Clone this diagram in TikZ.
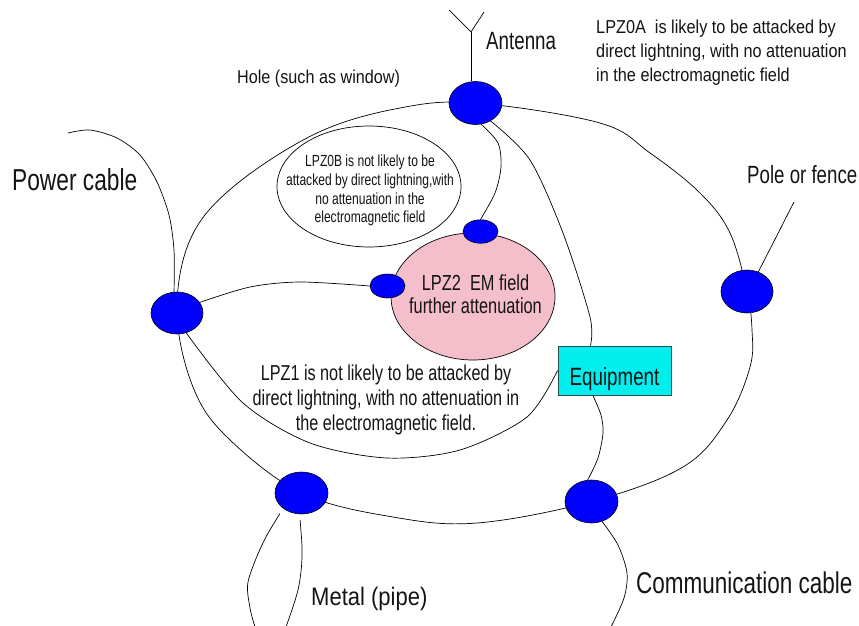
\documentclass[tikz,border=0pt]{standalone}
\usepackage{fontspec}
\setmainfont{Liberation Sans}[FakeStretch=0.75]
\newfontfamily\widefont{Liberation Sans}[FakeStretch=0.87]
\usetikzlibrary{shapes.geometric}
\definecolor{bondblue}{RGB}{0,0,255}
\definecolor{equipcyan}{RGB}{0,238,238}
\definecolor{equipedge}{RGB}{40,80,80}
\definecolor{zonepink}{RGB}{244,190,203}
\definecolor{ink}{RGB}{20,20,20}
\newcommand{\fsz}[2]{\fontsize{#1}{#2}\selectfont}
\pgfdeclarelayer{wires}
\pgfsetlayers{wires,main}

\begin{document}
\begin{tikzpicture}[x=1pt,y=-1pt,
  bond/.style={ellipse, draw=black, fill=bondblue, line width=0.6pt, inner sep=0pt},
  bigbond/.style={bond, minimum width=53pt, minimum height=43pt},
  smallbond/.style={bond, minimum width=35pt, minimum height=23.5pt},
  zone/.style={ellipse, draw=black, line width=0.7pt, inner sep=0pt},
  wire/.style={draw=black, line width=0.7pt},
  txt/.style={inner sep=0pt, text=ink},
]
\useasboundingbox (0,0) rectangle (859,626);

% protection zones
\node[zone, fill=white, minimum width=184pt, minimum height=121pt] (zoneB) at (369,186.5) {};
\node[zone, fill=zonepink, minimum width=164pt, minimum height=127pt] (zone2) at (473,296.5) {};

% bonding points
\node[bigbond] (A) at (475.5,103) {};
\node[bigbond, minimum width=52pt] (Po) at (747,291.5) {};
\node[bigbond, minimum width=52pt, minimum height=42pt] (P) at (177,313) {};
\node[bigbond, minimum height=42pt] (M) at (301.5,493) {};
\node[bigbond] (C) at (591.5,501.5) {};
\node[smallbond] (T) at (480.5,231.5) {};
\node[smallbond, minimum height=24pt] (L) at (387.5,286) {};

% equipment
\node[draw=equipedge, fill=equipcyan, line width=0.8pt, minimum width=113pt,
      minimum height=49pt, inner sep=0pt, text height=29pt, text depth=0pt,
      text=ink, font=\fsz{25}{30}] (E) at (614.5,370.5) {Equipment};

% free ends of cables and masts
\coordinate (anttop) at (471,32);
\coordinate (antL) at (449,10);
\coordinate (antR) at (484,12);
\coordinate (poletop) at (794,202);
\coordinate (pcend) at (68,133);
\coordinate (pipeL) at (255,627);
\coordinate (pipeR) at (286,627);
\coordinate (commend) at (611,627);

\begin{pgfonlayer}{wires}
  % LPZ1 boundary through the bonding points
  \draw[wire] plot[smooth cycle, tension=0.6] coordinates {(P.center) (190,240) (233,187)
    (317,133) (400,108) (A.center) (600,123) (650,153) (700,193) (730,233) (Po.center)
    (752,330) (750,367) (727,420) (683,467) (C.center) (477,523) (393,517) (M.center)
    (227,437) (193,387)};
  % antenna mast
  \draw[wire] (anttop |- A.north) -- (anttop);
  \draw[wire] (antL) -- (anttop) -- (antR);
  % pole
  \draw[wire] (Po.60) -- (poletop);
  % power cable
  \draw[wire] plot[smooth] coordinates {(P.98) (174,250) (169,215) (157,182) (140,155)
    (117,138) (90,130) (pcend)};
  % inner connections
  \draw[wire] plot[smooth] coordinates {(P.25) (250,287) (300,282) (L.west)};
  \draw[wire] plot[smooth] coordinates {(P.-65) (243,403) (310,443) (387,458) (460,450)
    (527,417) (E.west)};
  \draw[wire] plot[smooth] coordinates {(A.-75) (498,143) (501,167) (495,193) (T.north)};
  \draw[wire] plot[smooth] coordinates {(A.-50) (530,160) (563,233) (590,317) (E.134)};
  \draw[wire] plot[smooth] coordinates {(E.-131) (601,415) (603,433) (598,458) (C.100)};
  % communication cable
  \draw[wire] plot[smooth] coordinates {(C.-62) (618,545) (627,573) (624,598) (commend)};
  % metal pipe
  \draw[wire, shorten <=6pt] plot[smooth] coordinates {(M.-140) (262,545) (248,582)
    (250,608) (pipeL)};
  \draw[wire, shorten <=6pt] plot[smooth] coordinates {(M.-95) (302,557) (298,590) (pipeR)};
\end{pgfonlayer}

% labels (multi-line labels are placed by the baseline of their last line)
\node[txt, font=\fsz{25}{30}, anchor=base west] (antlbl) at (486,50) {Antenna};
\node[txt, font=\widefont\fsz{18.7}{24.2}, align=left, anchor=base west] (zoneAtxt)
  at (596,81.7) {LPZ0A\ \ is likely to be attacked by\\direct lightning, with no attenuation\\in the electromagnetic field};
\node[txt, font=\widefont\fsz{18.6}{22}, anchor=base west] (holelbl) at (237,83.3)
  {Hole (such as window)};
\node[txt, font=\fsz{30.3}{36}, anchor=base west] (pclbl) at (12,190) {Power cable};
\node[txt, font=\fsz{24.9}{30}, anchor=base west] (polelbl) at (747,183.3) {Pole or fence};
\node[txt, font=\fsz{16.1}{18.7}, align=center, anchor=base] (zoneBtxt) at (370,222.8)
  {LPZ0B is not likely to be\\attacked by direct lightning,with\\no attenuation in the\\electromagnetic field};
\node[txt, font=\fsz{21.8}{23.5}, align=center, anchor=base] (zone2txt) at (475.5,313.5)
  {LPZ2\ \ EM field\\further attenuation};
\node[txt, font=\fsz{21.6}{25}, align=center, anchor=base] (zone1txt) at (386,430)
  {LPZ1 is not likely to be attacked by\\direct lightning, with no attenuation in\\the electromagnetic field.};
\node[txt, font=\widefont\fsz{25.3}{30}, anchor=base west] (metallbl) at (311,605) {Metal (pipe)};
\node[txt, font=\fsz{30}{36}, anchor=base west] (commlbl) at (636,593.3) {Communication cable};
\end{tikzpicture}
\end{document}
